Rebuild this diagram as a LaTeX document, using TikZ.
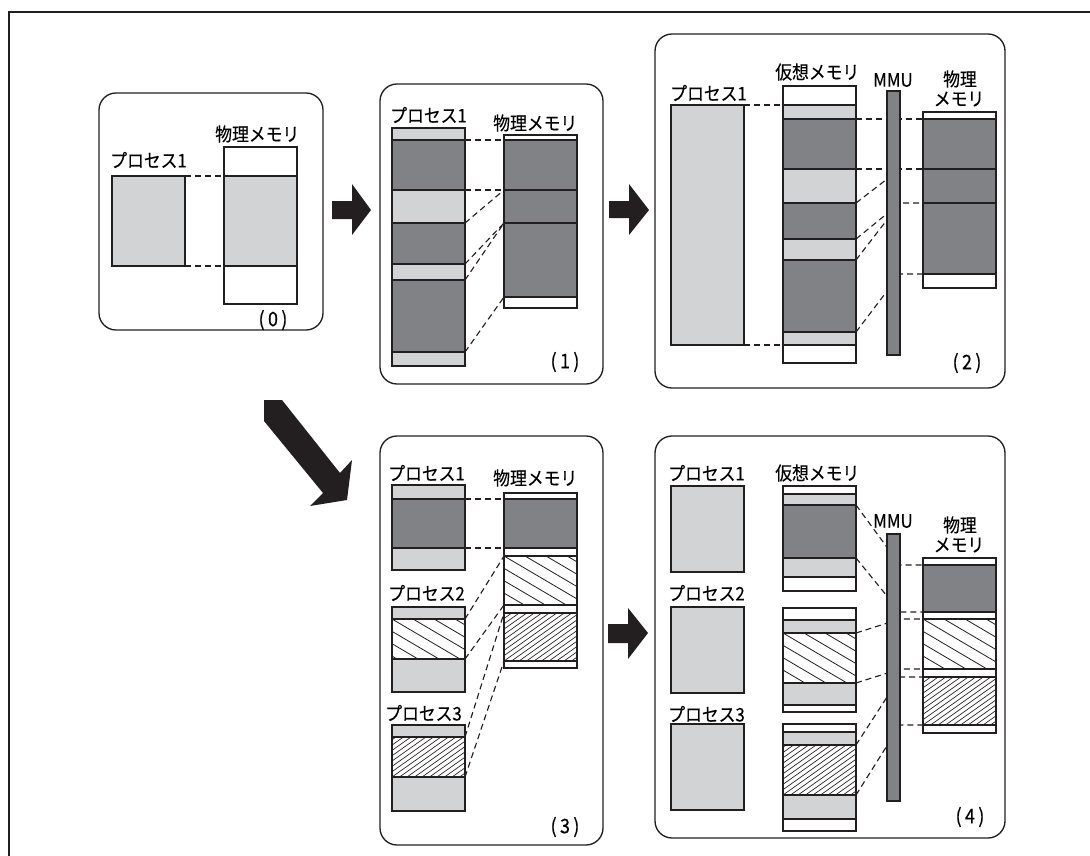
\documentclass[tikz,border=0pt]{standalone}
\usepackage{fontspec}
\setmainfont{Noto Sans CJK JP}
\newfontfamily\jpfont{Noto Sans CJK JP}[FakeStretch=0.9, AutoFakeBold=0.3]
\usetikzlibrary{calc}
\definecolor{lg}{RGB}{209,211,212}
\definecolor{dg}{RGB}{128,130,133}
\definecolor{ink}{RGB}{35,31,32}
\tikzset{
  panel/.style={draw=ink, line width=1pt, rounded corners=12.75pt},
  seg/.style={draw=ink, line width=0.9pt, inner sep=0pt, outer sep=0pt, minimum width=54.75pt, anchor=north west},
  light/.style={seg, fill=lg},
  dark/.style={seg, fill=dg},
  blank/.style={seg, fill=white},
  hatchw/.style={seg, fill=white, path picture={
      \foreach \k in {-8,...,4}
        \draw[ink, line width=0.6pt] ($(path picture bounding box.north west)+(\k*21,0)$) -- ++(170,100);}},
  hatchf/.style={seg, fill=white, path picture={
      \foreach \k in {-13,...,12}
        \draw[ink, line width=0.5pt] ($(path picture bounding box.south west)+(\k*7.5,0)$) -- ++(120,-85);}},
  mmubar/.style={draw=ink, line width=0.8pt, fill=dg, inner sep=0pt, outer sep=0pt, minimum width=9.75pt, anchor=north west},
  map/.style={draw=ink, line width=0.85pt, dash pattern=on 4.5pt off 3pt},
  lbl/.style={anchor=west, inner sep=0pt, font=\jpfont\bfseries\fontsize{14}{16}\selectfont},
  clbl/.style={anchor=center, inner sep=0pt, font=\jpfont\bfseries\fontsize{14}{16}\selectfont},
  numlbl/.style={anchor=center, inner sep=0pt, font=\jpfont\bfseries\fontsize{15}{17}\selectfont},
  blockarrow/.style={fill=ink},
}
\newcommand\sg[5]{\node[#5, minimum height={(#4-#3)*0.75pt}] (#1) at (#2,#3) {};}
\newcommand\pnum[1]{(\hspace{2.5pt}#1\hspace{2.5pt})}
\begin{document}
\begin{tikzpicture}[x=0.75pt, y=-0.75pt]
\useasboundingbox (0,0) rectangle (1090,856);
% outer frame
\draw[ink, line width=1.6pt] (9,856) -- (9,12) -- (1090,12);

% ---------------- panel 0
\draw[panel] (99,93) rectangle (323,330);
\node[lbl] (l0p) at (110,160) {プロセス1};
\node[lbl] (l0m) at (215,134) {物理メモリ};
\sg{p0}{112}{176}{266}{light}
\sg{m0a}{224}{147}{176}{blank}
\sg{m0b}{224}{176}{266}{light}
\sg{m0c}{224}{266}{304}{blank}
\draw[map] (p0.north east) -- (m0b.north west);
\draw[map] (p0.south east) -- (m0b.south west);
\node[numlbl] (n0) at (273,320) {\pnum{0}};

% ---------------- panel 1
\draw[panel] (380,84) rectangle (603,384);
\node[lbl] (l1p) at (390,115) {プロセス1};
\node[lbl] (l1m) at (493,123) {物理メモリ};
\sg{a1}{392}{128}{140}{light}
\sg{a2}{392}{140}{190}{dark}
\sg{a3}{392}{190}{223}{light}
\sg{a4}{392}{223}{264}{dark}
\sg{a5}{392}{264}{280}{light}
\sg{a6}{392}{280}{352}{dark}
\sg{a7}{392}{352}{366}{light}
\sg{b1}{504}{135}{140}{blank}
\sg{b2}{504}{140}{190}{dark}
\sg{b3}{504}{190}{223}{dark}
\sg{b4}{504}{223}{297}{dark}
\sg{b5}{504}{297}{308}{blank}
\draw[map] (a2.north east) -- (b2.north west);
\draw[map] (a2.south east) -- (b2.south west);
\draw[map] (a4.north east) -- (b3.north west);
\draw[map] (a4.south east) -- (b3.south west);
\draw[map] (a6.north east) -- (b4.north west);
\draw[map] (a6.south east) -- (b4.south west);
\node[numlbl] (n1) at (565,362) {\pnum{1}};

% ---------------- panel 2
\draw[panel] (655,34) rectangle (1005,388);
\node[lbl] (l2p) at (670,93) {プロセス1};
\node[lbl] (l2v) at (775,72) {仮想メモリ};
\node[lbl] (l2u) at (873,80) {MMU};
\node[clbl] (l2m1) at (960,79) {物理};
\node[clbl] (l2m2) at (959,99) {メモリ};
\sg{c0}{671}{105}{345}{light}
\sg{v1}{783}{86}{105}{blank}
\sg{v2}{783}{105}{119}{light}
\sg{v3}{783}{119}{169}{dark}
\sg{v4}{783}{169}{203}{light}
\sg{v5}{783}{203}{239}{dark}
\sg{v6}{783}{239}{260}{light}
\sg{v7}{783}{260}{332}{dark}
\sg{v8}{783}{332}{345}{light}
\sg{v9}{783}{345}{363}{blank}
\sg{w1}{923}{112}{119}{blank}
\sg{w2}{923}{119}{169}{dark}
\sg{w3}{923}{169}{203}{dark}
\sg{w4}{923}{203}{274}{dark}
\sg{w5}{923}{274}{288}{blank}
\node[mmubar, minimum height={(355-91)*0.75pt}] (mmu2) at (887,91) {};
\draw[map] (c0.north east) -- (v2.north west);
\draw[map] (c0.south east) -- (v8.south west);
\draw[map] (v3.north east) -- (mmu2.east |- w2.north west) -- (w2.north west);
\draw[map] (v3.south east) -- (mmu2.east |- w3.north west) -- (w3.north west);
\draw[map] (v5.north east) -- (mmu2.east |- w3.north west);
\draw[map] (v5.south east) -- (mmu2.east |- w4.north west) -- (w4.north west);
\draw[map] (v7.north east) -- (mmu2.east |- w4.north west);
\draw[map] (v7.south east) -- (mmu2.east |- w4.south west) -- (w4.south west);
\node[mmubar, minimum height={(355-91)*0.75pt}] (mmu2b) at (887,91) {};
\node[numlbl] (n2) at (967,363) {\pnum{2}};

% ---------------- panel 3
\draw[panel] (380,436) rectangle (603,845);
\node[lbl] (l3p1) at (388,473) {プロセス1};
\node[lbl] (l3m) at (493,478) {物理メモリ};
\node[lbl] (l3p2) at (388,593) {プロセス2};
\node[lbl] (l3p3) at (385,713) {プロセス3};
\sg{q1}{392}{485}{499}{light}
\sg{q2}{392}{499}{548}{dark}
\sg{q3}{392}{548}{570}{light}
\sg{r1}{392}{607}{619}{light}
\sg{r2}{392}{619}{659}{hatchw}
\sg{r3}{392}{659}{692}{light}
\sg{s1}{392}{725}{737}{light}
\sg{s2}{392}{737}{777}{hatchf}
\sg{s3}{392}{777}{811}{light}
\sg{t1}{504}{493}{499}{blank}
\sg{t2}{504}{499}{548}{dark}
\sg{t3}{504}{548}{556}{blank}
\sg{t4}{504}{556}{605}{hatchw}
\sg{t5}{504}{605}{613}{blank}
\sg{t6}{504}{613}{661}{hatchf}
\sg{t7}{504}{661}{668}{blank}
\draw[map] (q2.north east) -- (t2.north west);
\draw[map] (q2.south east) -- (t2.south west);
\draw[map] (r2.north east) -- (t4.north west);
\draw[map] (r2.south east) -- (t4.south west);
\draw[map] (s2.north east) -- (t6.north west);
\draw[map] (s2.south east) -- (t6.south west);
\node[numlbl] (n3) at (565,827) {\pnum{3}};

% ---------------- panel 4
\draw[panel] (655,436) rectangle (1005,838);
\node[lbl] (l4p1) at (668,473) {プロセス1};
\node[lbl] (l4v) at (775,473) {仮想メモリ};
\node[lbl] (l4p2) at (668,593) {プロセス2};
\node[lbl] (l4p3) at (668,714) {プロセス3};
\node[lbl] (l4u) at (873,521) {MMU};
\node[clbl] (l4m1) at (960,525) {物理};
\node[clbl] (l4m2) at (959,545) {メモリ};
\sg{u1}{671}{486}{572}{light}
\sg{u2}{671}{607}{693}{light}
\sg{u3}{671}{724}{810}{light}
\sg{e1}{783}{486}{494}{blank}
\sg{e2}{783}{494}{505}{light}
\sg{e3}{783}{505}{558}{dark}
\sg{e4}{783}{558}{577}{light}
\sg{e5}{783}{577}{591}{blank}
\sg{f1}{783}{608}{620}{blank}
\sg{f2}{783}{620}{633}{light}
\sg{f3}{783}{633}{683}{hatchw}
\sg{f4}{783}{683}{705}{light}
\sg{f5}{783}{705}{712}{blank}
\sg{g1}{783}{724}{732}{blank}
\sg{g2}{783}{732}{745}{light}
\sg{g3}{783}{745}{795}{hatchf}
\sg{g4}{783}{795}{819}{light}
\sg{g5}{783}{819}{831}{blank}
\sg{h1}{923}{558}{565}{blank}
\sg{h2}{923}{565}{612}{dark}
\sg{h3}{923}{612}{619}{blank}
\sg{h4}{923}{619}{669}{hatchw}
\sg{h5}{923}{669}{677}{blank}
\sg{h6}{923}{677}{725}{hatchf}
\sg{h7}{923}{725}{733}{blank}
\node[mmubar, minimum height={(801-534)*0.75pt}] (mmu4) at (887,534) {};
\draw[map] (e3.north east) -- (mmu4.east |- h2.north west) -- (h2.north west);
\draw[map] (e3.south east) -- (mmu4.east |- h2.south west) -- (h2.south west);
\draw[map] (f3.north east) -- (mmu4.east |- h4.north west) -- (h4.north west);
\draw[map] (f3.south east) -- (mmu4.east |- h4.south west) -- (h4.south west);
\draw[map] (g3.north east) -- (mmu4.east |- h6.north west) -- (h6.north west);
\draw[map] (g3.south east) -- (mmu4.east |- h6.south west) -- (h6.south west);
\node[mmubar, minimum height={(801-534)*0.75pt}] (mmu4b) at (887,534) {};
\node[numlbl] (n4) at (970,817) {\pnum{4}};

% ---------------- block arrows
\fill[blockarrow] (332,201) -- (352,201) -- (352,184) -- (371,210) -- (352,235) -- (352,219) -- (332,219) -- cycle;
\fill[blockarrow] (609,201) -- (629,201) -- (629,184) -- (649,210) -- (629,235) -- (629,218) -- (609,218) -- cycle;
\fill[blockarrow] (608,624) -- (628,624) -- (628,608) -- (648,633) -- (628,659) -- (628,643) -- (608,643) -- cycle;
\fill[blockarrow] (264,400) -- (282,400) -- (340,473) -- (352,460) -- (347,500) -- (310,506) -- (323,493) -- (264,421) -- cycle;
\end{tikzpicture}
\end{document}
